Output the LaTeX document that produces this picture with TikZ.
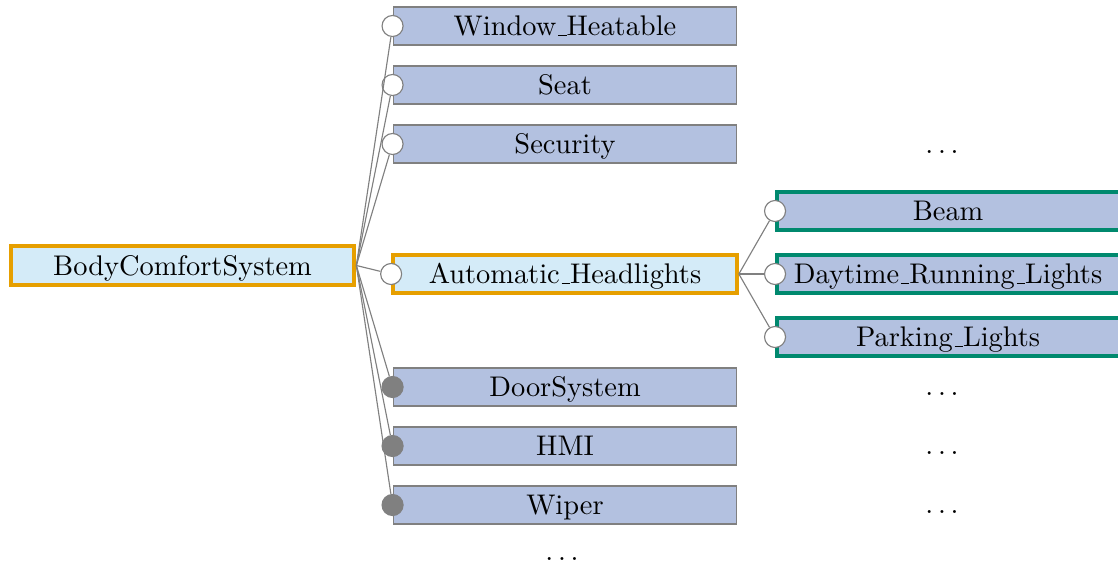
\documentclass[tikz,border=0pt]{standalone}
\definecolor{featfill}{HTML}{B3C1E0}
\definecolor{selfill}{HTML}{D4EBF8}
\definecolor{selorange}{HTML}{E69F00}
\definecolor{selgreen}{HTML}{00896E}
\definecolor{linegray}{HTML}{808080}
% low rule underscore, as in the classic text font
\newcommand\usc{\leavevmode\kern.06em\vbox{\hrule width.3em}}
\begin{document}
\begin{tikzpicture}[x=0.352pt,y=-0.352pt,
  feat/.style={draw=linegray, line width=0.4pt, fill=featfill,
    minimum width=121pt, minimum height=13.4pt, inner sep=0pt,
    text height=7pt, text depth=0pt},
  selroot/.style={feat, draw=selorange, line width=1.4pt, fill=selfill},
  selchild/.style={feat, draw=selgreen, line width=1.4pt, minimum width=130pt},
  optmark/.style={circle, draw=linegray, line width=0.4pt, fill=white,
    minimum size=7.4pt, inner sep=0pt},
  mandmark/.style={optmark, fill=linegray},
  edge/.style={draw=linegray, line width=0.4pt},
  more/.style={inner sep=0pt, text height=1pt, text depth=0pt}]
\useasboundingbox (0,0) rectangle (1118,567);

% root feature
\node[selroot] (root) at (182.5,265.5) {BodyComfortSystem};

% first level
\node[feat] (win)  at (565,26)  {Window\usc Heatable};
\node[feat] (seat) at (565,85)  {Seat};
\node[feat] (sec)  at (565,144) {Security};
\node[selroot] (ah) at (565,274) {Automatic\usc Headlights};
\node[feat] (door) at (565,387) {DoorSystem};
\node[feat] (hmi)  at (565,446) {HMI};
\node[feat] (wip)  at (565,505) {Wiper};

% second level (runs past the right margin)
\node[selchild] (beam) at (961.7,211) {\hspace*{-9.6pt}Beam};
\node[selchild] (drl)  at (961.7,274) {\hspace*{-9.6pt}Daytime\usc Running\usc Lights};
\node[selchild] (park) at (961.7,337) {\hspace*{-9.6pt}Parking\usc Lights};

% group markers
\node[optmark]  (mwin)  at (win.west)  {};
\node[optmark]  (mseat) at (seat.west) {};
\node[optmark]  (msec)  at (sec.west)  {};
\node[optmark]  (mah)   at (ah.west)   {};
\node[mandmark] (mdoor) at (door.west) {};
\node[mandmark] (mhmi)  at (hmi.west)  {};
\node[mandmark] (mwip)  at (wip.west)  {};
\node[optmark]  (mbeam) at (beam.west) {};
\node[optmark]  (mdrl)  at (drl.west)  {};
\node[optmark]  (mpark) at (park.west) {};

% connectors
\foreach \m in {mwin,mseat,msec,mah,mdoor,mhmi,mwip}
  \draw[edge] (root.east) -- (\m);
\foreach \m in {mbeam,mdrl,mpark}
  \draw[edge] (ah.east) -- (\m);

% omitted features
\node[more] (d1) at (942,152.5) {$\ldots$};
\node[more] (d2) at (942,394.5) {$\ldots$};
\node[more] (d3) at (942,453.5) {$\ldots$};
\node[more] (d4) at (942,512.5) {$\ldots$};
\node[more] (d5) at (562,559) {$\ldots$};
\end{tikzpicture}
\end{document}
